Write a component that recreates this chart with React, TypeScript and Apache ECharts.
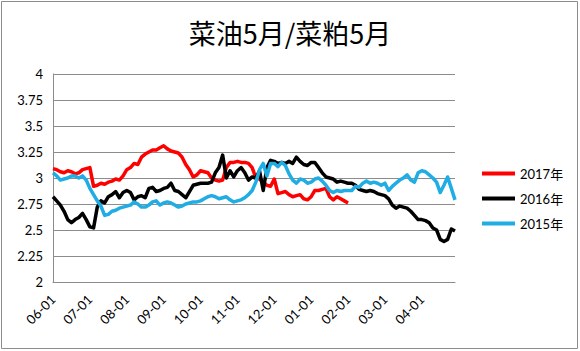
import React, { useEffect, useRef } from "react";
import * as echarts from "echarts";

const titleText = "菜油5月/菜粕5月";
const months = ["06", "07", "08", "09", "10", "11", "12", "01", "02", "03", "04"];
const seriesNames = ["2017年", "2016年", "2015年"];
const seriesColors = ["#FF0000", "#000000", "#1FADE4"];

const red2017: (number | null)[] = [
  3.09, 3.08, 3.06, 3.05, 3.07, 3.06, 3.04, 3.05, 3.08, 3.09,
  3.1, 2.92, 2.93, 2.95, 2.94, 2.96, 2.97, 2.99, 2.98, 3.02,
  3.08, 3.1, 3.14, 3.13, 3.2, 3.23, 3.25, 3.27, 3.27, 3.29,
  3.31, 3.28, 3.26, 3.25, 3.24, 3.2, 3.13, 3.08, 3.01, 3.03,
  3.07, 3.06, 3.05, 3.0, 2.98, 2.97, 2.98, 3.1, 3.15, 3.15,
  3.16, 3.15, 3.15, 3.14, 3.1, 3.0, 2.99, 2.96, 2.93, 2.92,
  2.99, 2.85, 2.86, 2.87, 2.84, 2.82, 2.83, 2.84, 2.8, 2.79,
  2.82, 2.88, 2.88, 2.89, 2.9, 2.82, 2.79, 2.82, 2.8, 2.78,
  2.76,
];

const black2016: number[] = [
  2.82, 2.78, 2.74, 2.68, 2.6, 2.57, 2.6, 2.62, 2.66, 2.6,
  2.53, 2.52, 2.72, 2.78, 2.76, 2.82, 2.84, 2.87, 2.81, 2.86,
  2.88, 2.86, 2.79, 2.82, 2.83, 2.81, 2.9, 2.91, 2.87, 2.88,
  2.9, 2.91, 2.95, 2.88, 2.87, 2.84, 2.81, 2.87, 2.93, 2.94,
  2.95, 2.95, 2.95, 2.96, 3.05, 3.1, 3.22, 3.0, 3.07, 3.01,
  3.07, 3.1, 3.05, 2.98, 3.01, 3.0, 3.07, 2.88, 3.1, 3.17,
  3.16, 3.14, 3.15, 3.14, 3.16, 3.14, 3.2, 3.16, 3.13, 3.12,
  3.15, 3.15, 3.1, 3.05, 3.01, 3.0, 2.99, 2.96, 2.97, 2.96,
  2.95, 2.95, 2.93, 2.89, 2.88, 2.87, 2.88, 2.87, 2.85, 2.84,
  2.83, 2.8, 2.74, 2.71, 2.73, 2.72, 2.71, 2.68, 2.64, 2.6,
  2.6, 2.59, 2.57, 2.52, 2.5, 2.41, 2.39, 2.41, 2.51, 2.49,
];

const blue2015: number[] = [
  3.05, 3.02, 2.98, 2.99, 3.0, 3.02, 3.02, 3.0, 3.02, 2.98,
  2.9, 2.84, 2.78, 2.73, 2.64, 2.65, 2.68, 2.69, 2.71, 2.72,
  2.73, 2.74, 2.77, 2.75, 2.72, 2.72, 2.74, 2.77, 2.78, 2.74,
  2.76, 2.77, 2.76, 2.74, 2.72, 2.73, 2.75, 2.76, 2.77, 2.77,
  2.78, 2.8, 2.82, 2.83, 2.82, 2.8, 2.81, 2.82, 2.79, 2.77,
  2.78, 2.79, 2.81, 2.84, 2.88, 2.96, 3.08, 3.14, 3.02, 3.14,
  3.14, 3.11, 3.15, 3.12, 3.04, 2.98, 2.95, 2.99, 2.98, 2.95,
  2.96, 2.99, 3.0, 2.97, 2.93, 2.88, 2.86, 2.88, 2.87, 2.88,
  2.88, 2.88, 2.92, 2.91, 2.95, 2.97, 2.95, 2.96, 2.95, 2.93,
  2.95, 2.88, 2.92, 2.95, 2.98, 3.0, 3.03, 2.98, 2.96, 3.05,
  3.07, 3.06, 3.03, 3.0, 2.96, 2.86, 2.93, 3.01, 2.9, 2.79,
];

const pointsPerMonth = 10;
const categories: string[] = [];
months.forEach((m) => {
  for (let j = 0; j < pointsPerMonth; j++) {
    categories.push(`${m}-${String(1 + j * 3).padStart(2, "0")}`);
  }
});

export default function App() {
  const ref = useRef<HTMLDivElement>(null);
  useEffect(() => {
    if (!ref.current) return;
    const chart = echarts.init(ref.current, undefined, { renderer: "svg" });
    const dataSets = [red2017, black2016, blue2015];
    chart.setOption({
      animation: false,
      backgroundColor: "#ffffff",
      title: {
        text: titleText,
        left: "center",
        top: 14,
        textStyle: {
          fontFamily: "Noto Sans CJK SC",
          fontSize: 27,
          fontWeight: "normal",
          color: "#000",
        },
      },
      legend: {
        orient: "vertical",
        left: 477,
        top: 162,
        itemWidth: 33,
        itemHeight: 4,
        itemGap: 12,
        icon: "rect",
        data: seriesNames,
        textStyle: {
          fontFamily: "Lato, 'Noto Sans CJK SC'",
          fontSize: 13,
          color: "#000",
        },
      },
      graphic: [
        {
          type: "rect",
          shape: { x: 1.5, y: 1.5, width: 576, height: 347 },
          style: { fill: "none", stroke: "#8c8c8c", lineWidth: 1 },
          silent: true,
        },
      ],
      grid: { left: 53, right: 125, top: 74, bottom: 69, containLabel: false },
      xAxis: {
        type: "category",
        data: categories,
        boundaryGap: false,
        axisLine: { show: true, lineStyle: { color: "#8c8c8c", width: 1 } },
        axisTick: { show: false },
        axisLabel: {
          interval: pointsPerMonth - 1,
          rotate: 45,
          margin: 15,
          fontFamily: "Lato",
          fontSize: 13,
          color: "#000",
        },
        splitLine: { show: false },
      },
      yAxis: {
        type: "value",
        min: 2,
        max: 4,
        interval: 0.25,
        axisLine: { show: true, lineStyle: { color: "#8c8c8c", width: 1 } },
        axisTick: { show: false },
        axisLabel: {
          margin: 10,
          fontFamily: "Lato",
          fontSize: 13,
          color: "#000",
        },
        splitLine: { show: true, lineStyle: { color: "#8c8c8c", width: 1 } },
      },
      series: seriesNames.map((name, k) => ({
        name,
        type: "line",
        data: dataSets[k],
        symbol: "none",
        showSymbol: false,
        connectNulls: false,
        color: seriesColors[k],
        lineStyle: { color: seriesColors[k], width: 3.5, join: "round" },
      })),
    });
    return () => chart.dispose();
  }, []);
  return (
    <div
      ref={ref}
      style={{ position: "fixed", left: 0, top: 0, width: 580, height: 351 }}
    />
  );
}
